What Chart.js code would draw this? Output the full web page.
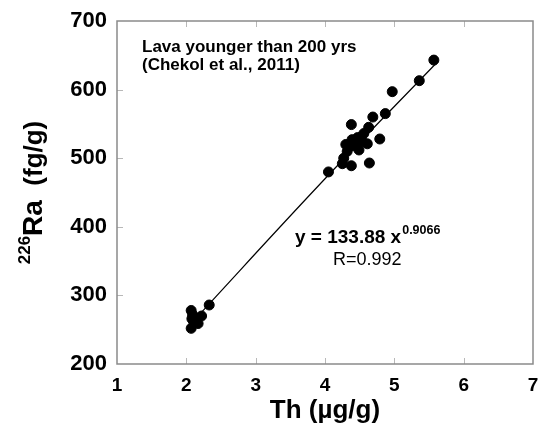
<!DOCTYPE html>
<html>
<head>
<meta charset="utf-8">
<script src="https://cdn.jsdelivr.net/npm/chart.js@4/dist/chart.umd.min.js"></script>
<style>
  html, body { margin: 0; padding: 0; background: #fff; }
  #c { display: block; }
</style>
</head>
<body>
<canvas id="c" width="539" height="429"></canvas>
<script>
// Measured samples: Th (µg/g) vs 226Ra (fg/g)
const thValues = [2.07, 2.09, 2.08, 2.10, 2.17, 2.07, 2.22, 2.33,
  4.05, 4.25, 4.27, 4.32, 4.38, 4.64, 4.49, 4.61, 4.54, 4.30, 4.39, 4.79,
  4.56, 4.63, 4.38, 4.69, 4.87, 4.97, 5.36, 5.57, 4.42, 4.47, 4.52];
const raValues = [278, 272, 266, 263, 259, 252, 270, 286,
  480, 492, 500, 510, 489, 493, 512, 521, 524, 520, 527, 528,
  536, 545, 549, 560, 565, 597, 613, 643, 518, 530, 531];
// Fit line (y = 133.88 x^0.9066)
const fitTh = [2.05, 4.0, 5.6];
const fitRa = [257, 470, 638];
// Tick labels
const xTicks = [1, 2, 3, 4, 5, 6, 7];
const yTicks = [200, 300, 400, 500, 600, 700];

const frameColor = '#8a8a8a';

const decor = {
  id: 'decor',
  afterDraw(chart) {
    const ctx = chart.ctx, a = chart.chartArea;
    const xs = chart.scales.x, ys = chart.scales.y;
    ctx.save();
    // inward tick marks
    ctx.strokeStyle = '#b8b8b8';
    ctx.lineWidth = 1;
    xTicks.slice(1, -1).forEach(v => {
      const px = Math.round(xs.getPixelForValue(v)) + 0.5;
      ctx.beginPath();
      ctx.moveTo(px, a.bottom); ctx.lineTo(px, a.bottom - 6);
      ctx.moveTo(px, a.top); ctx.lineTo(px, a.top + 6);
      ctx.stroke();
    });
    yTicks.slice(1, -1).forEach(v => {
      const py = Math.round(ys.getPixelForValue(v)) + 0.5;
      ctx.beginPath();
      ctx.moveTo(a.left, py); ctx.lineTo(a.left + 6, py);
      ctx.stroke();
    });
    // frame
    ctx.strokeStyle = frameColor;
    ctx.lineWidth = 1.5;
    ctx.strokeRect(a.left, a.top, a.right - a.left, a.bottom - a.top);

    ctx.fillStyle = '#000';
    ctx.textBaseline = 'alphabetic';
    // annotation
    ctx.textAlign = 'left';
    ctx.font = 'bold 17px "Liberation Sans", Arial, sans-serif';
    ctx.fillText('Lava younger than 200 yrs', 142, 52);
    ctx.fillText('(Chekol et al., 2011)', 142, 70);

    // equation
    ctx.font = 'bold 19px "Liberation Sans", Arial, sans-serif';
    const eq = 'y = 133.88 x';
    ctx.fillText(eq, 295, 243);
    const w = ctx.measureText(eq).width;
    ctx.font = 'bold 12.5px "Liberation Sans", Arial, sans-serif';
    ctx.fillText('0.9066', 295 + w + 1, 234);
    ctx.font = '18px "Liberation Sans", Arial, sans-serif';
    ctx.fillText('R=0.992', 333, 265);

    // x title
    ctx.textAlign = 'center';
    ctx.font = 'bold 26px "Liberation Sans", Arial, sans-serif';
    ctx.fillText('Th (\u00b5g/g)', (a.left + a.right) / 2, 418);

    // y title with superscript
    ctx.save();
    ctx.translate(42, (a.top + a.bottom) / 2);
    ctx.rotate(-Math.PI / 2);
    ctx.textAlign = 'left';
    const f1 = 'bold 17px "Liberation Sans", Arial, sans-serif';
    const f2 = 'bold 28px "Liberation Sans", Arial, sans-serif';
    const f3 = 'bold 26px "Liberation Sans", Arial, sans-serif';
    ctx.font = f1; const w1 = ctx.measureText('226').width;
    ctx.font = f2; const w2 = ctx.measureText('Ra').width;
    ctx.font = f3; const w3 = ctx.measureText('  (fg/g)').width;
    let x0 = -(w1 + w2 + w3) / 2;
    ctx.font = f1; ctx.fillText('226', x0, -12); x0 += w1;
    ctx.font = f2; ctx.fillText('Ra', x0, 0); x0 += w2;
    ctx.font = f3; ctx.fillText('  (fg/g)', x0, 0);
    ctx.restore();

    ctx.restore();
  }
};

const scatterData = thValues.map((t, i) => ({ x: t, y: raValues[i] }));
const fitData = fitTh.map((t, i) => ({ x: t, y: fitRa[i] }));

new Chart(document.getElementById('c'), {
  type: 'scatter',
  data: {
    datasets: [
      {
        type: 'line',
        data: fitData,
        borderColor: '#000',
        borderWidth: 1.2,
        pointRadius: 0,
        fill: false,
        tension: 0.4,
        order: 2
      },
      {
        data: scatterData,
        backgroundColor: '#000',
        borderColor: '#000',
        pointRadius: 5,
        pointHoverRadius: 5,
        order: 1
      }
    ]
  },
  options: {
    responsive: false,
    animation: false,
    events: [],
    layout: { padding: { top: 21, right: 3, left: 0, bottom: 0 } },
    plugins: { legend: { display: false }, tooltip: { enabled: false } },
    scales: {
      x: {
        type: 'linear',
        min: 1, max: 7,
        afterBuildTicks(s) { s.ticks = xTicks.map(v => ({ value: v })); },
        afterFit(s) { s.height = 65; s.paddingRight = 0; s.paddingLeft = 0; },
        grid: { display: false, drawTicks: false },
        border: { display: false },
        ticks: {
          padding: 10,
          color: '#000',
          font: { family: '"Liberation Sans", Arial, sans-serif', size: 19, weight: 'bold' }
        }
      },
      y: {
        type: 'linear',
        min: 200, max: 700,
        afterBuildTicks(s) { s.ticks = yTicks.map(v => ({ value: v })); },
        afterFit(s) { s.width = 117; s.paddingTop = 0; s.paddingBottom = 0; },
        grid: { display: false, drawTicks: false },
        border: { display: false },
        ticks: {
          padding: 10,
          color: '#000',
          font: { family: '"Liberation Sans", Arial, sans-serif', size: 22, weight: 'bold' }
        }
      }
    }
  },
  plugins: [decor]
});
</script>
</body>
</html>
